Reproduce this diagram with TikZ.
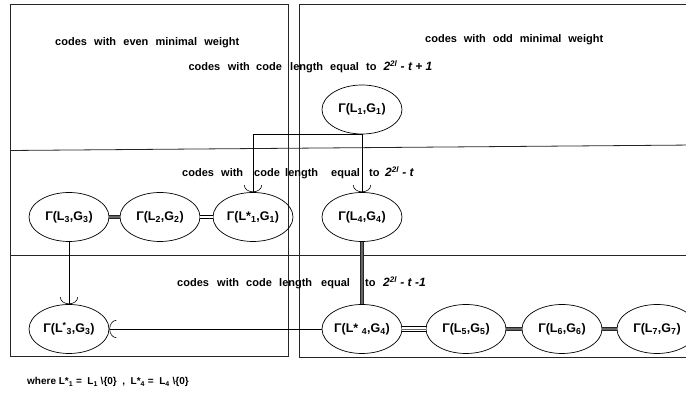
\documentclass[tikz,border=0pt]{standalone}
\usepackage{fontspec}
\setmainfont{Liberation Sans}
\usetikzlibrary{arrows.meta,shapes.geometric}

% one word set in a box of fixed width, so that word starts fall where wanted
\newcommand\wordbox[2]{\makebox[#1pt][l]{#2}}
% the length expression of a band
\newcommand\lenexpr[1]{{\fontsize{12}{14}\selectfont\itshape 2\textsuperscript{2l} - t#1}}

\tikzset{
  frame/.style={draw=black!85, line width=0.8pt},
  code/.style={ellipse, draw, line width=0.7pt, minimum width=80pt, minimum height=49pt,
               inner sep=0pt, font=\fontsize{12.5}{14}\selectfont\bfseries},
  caption/.style={anchor=base west, inner sep=0pt, font=\fontsize{11}{13}\selectfont\bfseries},
  note/.style={anchor=base west, inner sep=0pt, font=\fontsize{10}{12}\selectfont\bfseries},
  link/.style={line width=0.6pt, -{Arc Barb[width=18pt,length=7pt]}},
  heavy/.style={draw=black!85, line width=0.7pt, double=black!60, double distance=2.6pt},
  twin/.style={line width=0.6pt, double=white, double distance=2.2pt},
  triple/.style={line width=0.6pt, double=white, double distance=4pt},
}

\begin{document}
\begin{tikzpicture}[x=1pt, y=-1pt]
\clip (0,0) rectangle (686,403);

% the two weight classes
\draw[frame] (10,4.7) rectangle (288,356);
\draw[frame] (299,4.7) rectangle (695,357);
% the three length bands
\draw[frame] (10,150.5) -- (695,145);
\draw[frame] (10,255) -- (695,255);

% band and class captions
\node[caption] (evenT) at (55,46)
  {\wordbox{39}{codes}\wordbox{29.2}{with}\wordbox{32.2}{even}\wordbox{48.8}{minimal}weight};
\node[caption] (oddT) at (425,42.5)
  {\wordbox{38.7}{codes}\wordbox{28.9}{with}\wordbox{27.1}{odd}\wordbox{48.5}{minimal}weight};
\node[caption] (lenA) at (188.3,70.5)
  {\wordbox{39.4}{codes}\wordbox{28.3}{with}\wordbox{34}{code}\wordbox{40}{length}\wordbox{36}{equal}\wordbox{17.3}{to}\lenexpr{ + 1}};
\node[caption] (lenB) at (182,177)
  {\wordbox{39}{codes}\wordbox{33}{with}\wordbox{31}{code}\wordbox{46}{length}\wordbox{38}{equal}\wordbox{16}{to}\lenexpr{}};
\node[caption] (lenC) at (177,287)
  {\wordbox{40}{codes}\wordbox{29}{with}\wordbox{33}{code}\wordbox{42}{length}\wordbox{44}{equal}\wordbox{18}{to}\lenexpr{ -1}};

% the codes
\node[code] (g1)  at (362,109.5) {Γ(L\textsubscript{1},G\textsubscript{1})};
\node[code] (g3)  at (69,217)    {Γ(L\textsubscript{3},G\textsubscript{3})};
\node[code] (g2)  at (160,217)   {Γ(L\textsubscript{2},G\textsubscript{2})};
\node[code] (g1s) at (253,217)   {Γ(L*\textsubscript{1},G\textsubscript{1})};
\node[code] (g4)  at (362,217)   {Γ(L\textsubscript{4},G\textsubscript{4})};
\node[code] (g3s) at (69,329)    {Γ(L\textsuperscript{*}\textsubscript{3},G\textsubscript{3})};
\node[code] (g4s) at (362,329)   {Γ(L* \textsubscript{4},G\textsubscript{4})};
\node[code] (g5)  at (466,329)   {Γ(L\textsubscript{5},G\textsubscript{5})};
\node[code] (g6)  at (562,329)   {Γ(L\textsubscript{6},G\textsubscript{6})};
\node[code] (g7)  at (657,329)   {Γ(L\textsubscript{7},G\textsubscript{7})};

% derivations
\draw[link] (g1.south) -- (g4.north);
\draw[link] (g1.south) -| (g1s.north);
\draw[link] (g3.south) -- (g3s.north);
\draw[link] (g4s.west) -- (g3s.east);

% equivalences
\draw[heavy] (g3.east) -- (g2.west);
\draw[twin]  (g2.east) -- (g1s.west);
\draw[heavy] (g4.south) -- (g4s.north);
\draw[triple] (g4s.east) -- (g5.west);
\draw[line width=0.6pt, black!60] (g4s.east) -- (g5.west);
\draw[heavy] (g5.east) -- (g6.west);
\draw[heavy] (g6.east) -- (g7.west);

% definitions
\node[note] (defs) at (27,385)
  {where L*\textsubscript{1} = \ L\textsubscript{1} \textbackslash\{0\} \ , \ L*\textsubscript{4} = \ L\textsubscript{4} \textbackslash\{0\}};
\end{tikzpicture}
\end{document}
